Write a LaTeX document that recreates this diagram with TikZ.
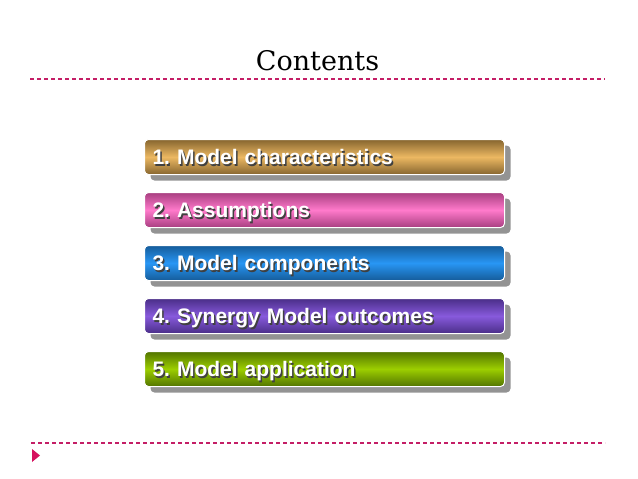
\documentclass[tikz,border=0pt]{standalone}
\usepackage{fontspec}
\setsansfont{Liberation Sans}
\newfontfamily\titlefont{DejaVu Serif}
\usetikzlibrary{shadows}
\frenchspacing

\definecolor{goldD}{HTML}{86652F}
\definecolor{goldL}{HTML}{ECB862}
\definecolor{pinkD}{HTML}{A83E80}
\definecolor{pinkL}{HTML}{FF7ACB}
\definecolor{blueD}{HTML}{155C9A}
\definecolor{blueL}{HTML}{2896F4}
\definecolor{purpD}{HTML}{4A2E88}
\definecolor{purpL}{HTML}{875ADC}
\definecolor{grenD}{HTML}{527400}
\definecolor{grenL}{HTML}{9CCE00}
\definecolor{ruleC}{HTML}{C41E66}
\definecolor{markC}{HTML}{D6125F}

\newcommand\shadowed[1]{\makebox[0pt][l]{\hspace{1.5pt}\raisebox{-1.5pt}{\color{black!75}#1}}#1}

\begin{document}
\begin{tikzpicture}[
    x=1pt, y=-1pt,
    bar/.style={rounded corners=4pt, draw=white, line width=1pt,
        minimum width=360pt, minimum height=35pt, text width=344pt,
        inner xsep=8pt, inner ysep=0pt, text height=15pt, text depth=0pt,
        align=left, anchor=north west, text=white,
        font=\fontsize{21}{24}\selectfont\sffamily\bfseries,
        drop shadow={shadow xshift=6pt, shadow yshift=-6pt, fill=gray!85, opacity=1}},
    rule/.style={ruleC, line width=1.1pt, dash pattern=on 4pt off 3pt}
]
\useasboundingbox (0,0) rectangle (638,479);

\node[font=\fontsize{27}{32}\selectfont\titlefont, anchor=base] (title) at (317.5,70) {Contents};

\coordinate (topL) at (30,79);
\coordinate (topR) at (605,79);
\coordinate (botL) at (31,443);
\coordinate (botR) at (605,443);
\draw[rule] (topL) -- (topR);
\draw[rule] (botL) -- (botR);

\foreach \i/\dark/\light/\txt in {
    1/goldD/goldL/{1. Model characteristics},
    2/pinkD/pinkL/{2. Assumptions},
    3/blueD/blueL/{3. Model components},
    4/purpD/purpL/{4. Synergy Model outcomes},
    5/grenD/grenL/{5. Model application}}{
    \node[bar, top color=\dark, bottom color=\dark, middle color=\light]
        (item\i) at (144,{139+53*(\i-1)}) {\shadowed{\txt}};
}

\fill[markC] (32,449) -- (32,462) -- (40,455.5) -- cycle;

\end{tikzpicture}
\end{document}
